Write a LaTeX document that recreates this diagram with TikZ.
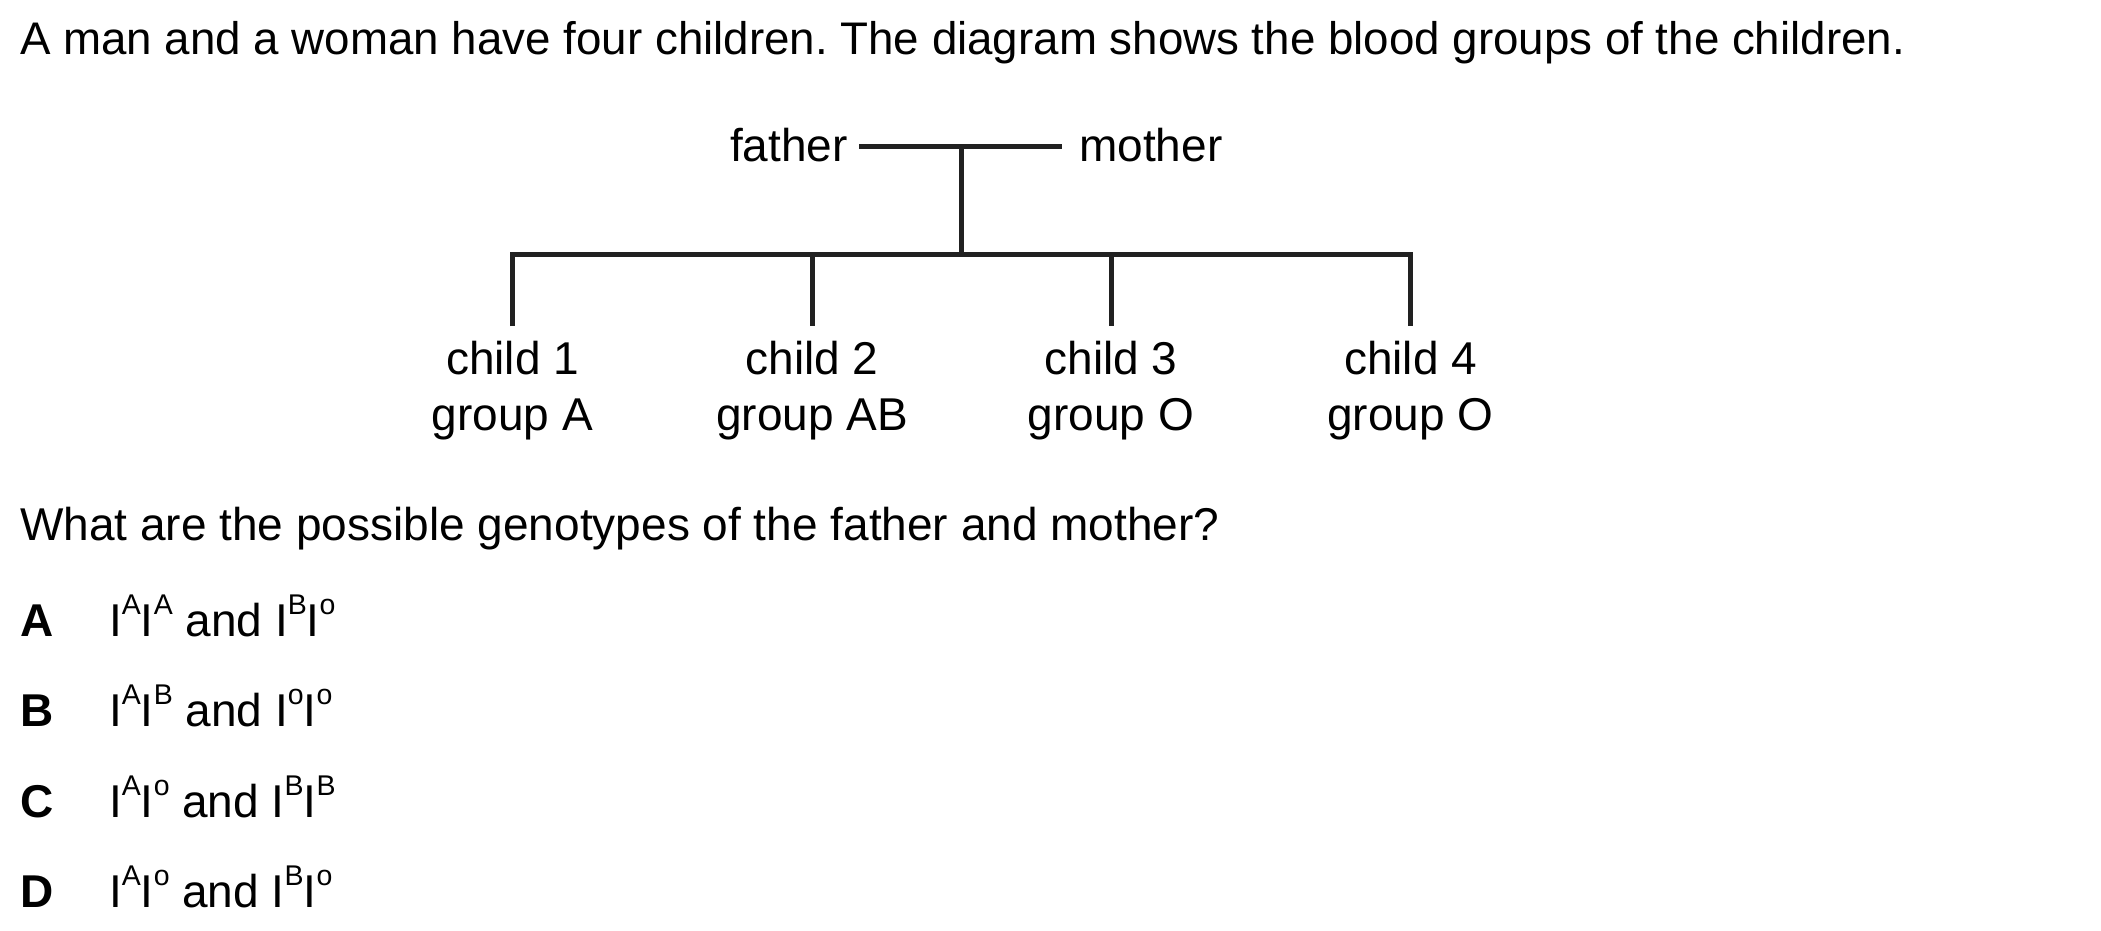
\documentclass[tikz,border=0pt]{standalone}
\usepackage{fontspec}
\setmainfont{Liberation Sans}
\frenchspacing
\newcommand{\gsup}[1]{\raisebox{22pt}{\fontsize{28.5}{28.5}\selectfont #1}}
\begin{document}
\begin{tikzpicture}[x=1pt,y=-1pt,
  txt/.style={inner sep=0pt, anchor=base west, font=\fontsize{46}{56}\selectfont},
  opt/.style={inner sep=0pt, anchor=base west, font=\fontsize{46}{56}\selectfont\bfseries},
  lbl/.style={inner sep=0pt, anchor=base, align=center, font=\fontsize{46}{56}\selectfont},
  pedline/.style={line width=5pt, draw=black!87}]
\useasboundingbox (0,0) rectangle (2101,931);
\fill[white] (0,0) rectangle (2101,931);

\node[txt, font=\fontsize{45.7}{56}\selectfont] (intro) at (20,55) {A man and a woman have four children. The diagram shows the blood groups of the children.};

\node[txt, anchor=base east] (father) at (848,161) {father};
\node[txt] (mother) at (1079,161) {mother};

\coordinate (fl) at (859,146.5);
\coordinate (ml) at (1062,146.5);
\coordinate (mid) at (961.5,146.5);
\coordinate (bar) at (961.5,254.5);

\foreach \i/\x in {1/512.5, 2/812, 3/1111, 4/1410.5}{
  \coordinate (t\i) at (\x,254.5);
  \coordinate (b\i) at (\x,326);
}
\node[lbl] (c1) at (512.5,430) {child 1\\group A};
\node[lbl] (c2) at (812,430) {child 2\\group AB};
\node[lbl] (c3) at (1111,430) {child 3\\group O};
\node[lbl] (c4) at (1410.5,430) {child 4\\group O};

\draw[pedline] (fl) -- (ml);
\draw[pedline] (mid) -- (bar);
\draw[pedline] (b1) -- (t1) -- (t4) -- (b4);
\draw[pedline] (t2) -- (b2);
\draw[pedline] (t3) -- (b3);

\node[txt] (q) at (20,540) {What are the possible genotypes of the father and mother?};

\node[opt] (oA) at (20,636) {A};
\node[opt] (oB) at (20,726.5) {B};
\node[opt] (oC) at (20,817) {C};
\node[opt] (oD) at (20,907) {D};

\node[txt] (gA) at (109,636) {I\gsup{A}I\gsup{A} and I\gsup{B}I\gsup{o}};
\node[txt] (gB) at (109,726.5) {I\gsup{A}I\gsup{B} and I\gsup{o}I\gsup{o}};
\node[txt] (gC) at (109,817) {I\gsup{A}I\gsup{o} and I\gsup{B}I\gsup{B}};
\node[txt] (gD) at (109,907) {I\gsup{A}I\gsup{o} and I\gsup{B}I\gsup{o}};
\end{tikzpicture}
\end{document}
